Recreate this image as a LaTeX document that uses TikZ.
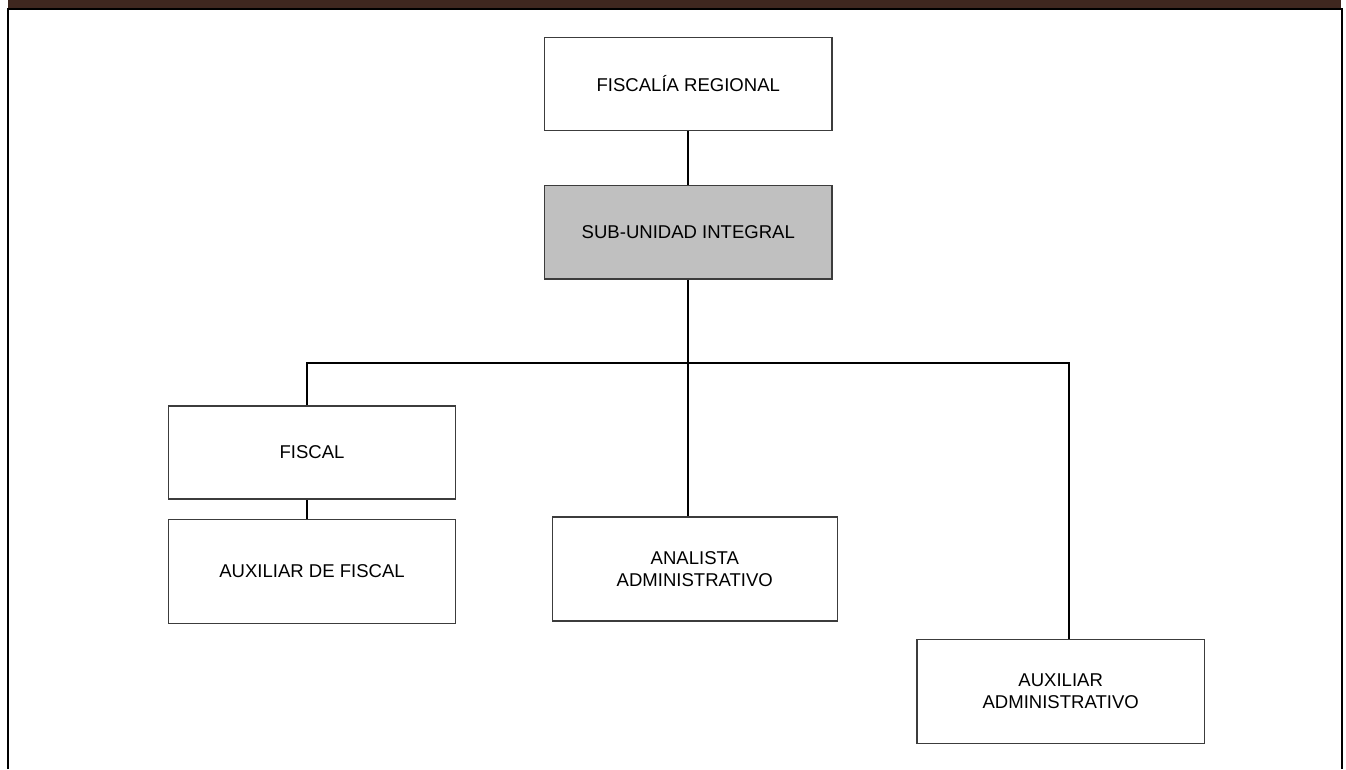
\documentclass[tikz,border=0pt]{standalone}
\usepackage{fontspec}
\setmainfont{Liberation Sans}
\usetikzlibrary{positioning}
\definecolor{barbrown}{RGB}{63,39,31}
\definecolor{boxgray}{RGB}{192,192,192}
\definecolor{edgegray}{RGB}{60,60,60}

\begin{document}
\begin{tikzpicture}[x=0.75pt, y=-0.75pt,
            base/.style = {draw=edgegray, line width=1.1pt, minimum width=215.5pt,
                    minimum height=70pt, align=center, inner sep=0pt,
                    font=\fontsize{13.9}{17}\selectfont},
            unit/.style = {base, fill=white},
            subunit/.style = {base, fill=boxgray},
            tall/.style = {minimum height=78pt},
            link/.style = {line width=1.5pt}]

        \useasboundingbox (0,0) rectangle (1346,769);
        % Frame
        \fill [barbrown] (8,0) rectangle (1341,8.5);
        \draw [line width=1.6pt] (7.7,769) -- (7.7,9) -- (1342,9) -- (1342,769);

        \node [unit] (regional) at (688.3,84) {FISCALÍA REGIONAL}; % top
        \node [subunit,
            below=40pt of regional] (subunidad) {SUB-UNIDAD INTEGRAL};
        \node [unit] (fiscal) at (312,452.5) {FISCAL};
        \node [unit, tall,
            below=14pt of fiscal] (auxfiscal) {AUXILIAR DE FISCAL};
        \node [unit, tall, minimum width=213.75pt]
            (analista) at (694.8,569) {ANALISTA\\ADMINISTRATIVO};
        \node [unit, tall] (auxadmin) at (1060.7,691.3) {AUXILIAR\\ADMINISTRATIVO};

        % Bus
        \coordinate (busL) at (306.7,363);
        \coordinate (busR) at (1068.7,363);
        %%
        \draw [link] (regional.south) -- (regional.south |- subunidad.north);
        \draw [link] (subunidad.south) -- (subunidad.south |- busL);
        \draw [link] (busL |- fiscal.north) -- (busL) -- (busR) -- (busR |- auxadmin.north);
        \draw [link] (busL |- fiscal.south) -- (busL |- auxfiscal.north);
        \draw [link] (subunidad.south |- busL) -- (subunidad.south |- analista.north);
    \end{tikzpicture}
\end{document}
